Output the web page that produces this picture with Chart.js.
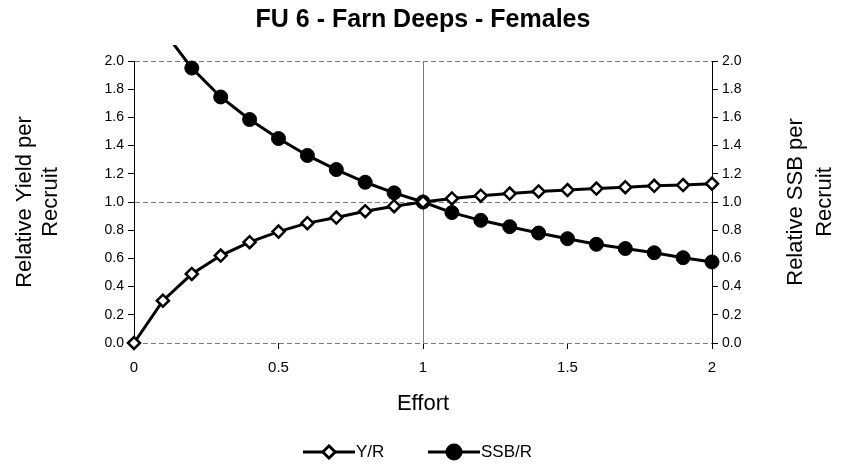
<!DOCTYPE html>
<html>
<head>
<meta charset="utf-8">
<script src="https://cdn.jsdelivr.net/npm/chart.js@4.4.1/dist/chart.umd.min.js"></script>
<style>
  html, body { margin: 0; padding: 0; background: #fff; }
  #wrap { width: 846px; height: 464px; }
</style>
</head>
<body>
<div id="wrap"><canvas id="chart"></canvas></div>
<script>
const effort = [0, 0.1, 0.2, 0.3, 0.4, 0.5, 0.6, 0.7, 0.8, 0.9, 1.0,
  1.1, 1.2, 1.3, 1.4, 1.5, 1.6, 1.7, 1.8, 1.9, 2.0];
const yieldPerRecruit = [0, 0.30, 0.49, 0.62, 0.715, 0.79, 0.85, 0.89, 0.935, 0.97, 1.0,
  1.025, 1.045, 1.06, 1.075, 1.085, 1.095, 1.105, 1.115, 1.12, 1.13];
const ssbPerRecruit = [2.6, 2.22, 1.95, 1.745, 1.585, 1.45, 1.33, 1.23, 1.14, 1.065, 1.0,
  0.925, 0.87, 0.825, 0.78, 0.74, 0.70, 0.67, 0.64, 0.605, 0.575];
const xTicks = [0, 0.5, 1, 1.5, 2];
const leftTitle = ['Relative Yield per', 'Recruit'];
const rightTitle = ['Relative SSB per', 'Recruit'];

const font = 'Arial, "Liberation Sans", sans-serif';

const toPoints = ys => effort.map((x, i) => ({ x, y: ys[i] }));

// both side titles read bottom-to-top, so draw them by hand
const sideTitles = {
  id: 'sideTitles',
  afterDraw(chart) {
    const { ctx, chartArea: a } = chart;
    const cy = (a.top + a.bottom) / 2;
    const draw = (lines, xs) => {
      lines.forEach((t, i) => {
        ctx.save();
        ctx.translate(xs[i], cy);
        ctx.rotate(-Math.PI / 2);
        ctx.fillStyle = '#000';
        ctx.font = '22px ' + font;
        ctx.textAlign = 'center';
        ctx.textBaseline = 'middle';
        ctx.fillText(t, 0, 0);
        ctx.restore();
      });
    };
    draw(leftTitle, [a.left - 109, a.left - 83]);
    draw(rightTitle, [a.right + 84, a.right + 113]);
  }
};

// line + marker legend, like the spreadsheet one
const lineLegend = {
  id: 'lineLegend',
  afterDraw(chart) {
    const ctx = chart.ctx;
    const cx = chart.width / 2;
    const y = 452;
    const items = [
      { ds: chart.data.datasets[0], x0: cx - 120, label: 'Y/R' },
      { ds: chart.data.datasets[1], x0: cx + 5, label: 'SSB/R' }
    ];
    ctx.save();
    for (const it of items) {
      ctx.strokeStyle = '#000';
      ctx.lineWidth = 3;
      ctx.beginPath();
      ctx.moveTo(it.x0, y);
      ctx.lineTo(it.x0 + 52, y);
      ctx.stroke();
      Chart.helpers.drawPoint(ctx, {
        pointStyle: it.ds.pointStyle,
        radius: it.ds.pointRadius,
        rotation: 0,
        borderWidth: it.ds.pointBorderWidth
      }, it.x0 + 26, y);
      ctx.fillStyle = it.ds.pointBackgroundColor;
      ctx.strokeStyle = '#000';
      ctx.lineWidth = it.ds.pointBorderWidth;
      ctx.fill();
      ctx.stroke();
      ctx.fillStyle = '#000';
      ctx.font = '17px ' + font;
      ctx.textBaseline = 'middle';
      ctx.fillText(it.label, it.x0 + 53, y);
    }
    ctx.restore();
  }
};

const gridAt = vals => ctx => (ctx.tick && vals.includes(Math.round(ctx.tick.value * 10) / 10)) ? '#7a7a7a' : 'transparent';

new Chart(document.getElementById('chart'), {
  type: 'line',
  data: {
    datasets: [
      {
        label: 'Y/R',
        data: toPoints(yieldPerRecruit),
        borderColor: '#000',
        borderWidth: 3,
        pointStyle: 'rectRot',
        pointRadius: 6,
        pointBorderWidth: 2.5,
        pointBackgroundColor: '#fff',
        pointBorderColor: '#000',
        yAxisID: 'y',
        clip: 8
      },
      {
        label: 'SSB/R',
        data: toPoints(ssbPerRecruit),
        borderColor: '#000',
        borderWidth: 3,
        pointStyle: 'circle',
        pointRadius: 7,
        pointBorderWidth: 1,
        pointBackgroundColor: '#000',
        pointBorderColor: '#000',
        yAxisID: 'y',
        clip: { left: 8, right: 8, bottom: 8, top: 16 }
      }
    ]
  },
  options: {
    responsive: true,
    maintainAspectRatio: false,
    animation: false,
    layout: { padding: { left: 0, right: 0, top: 0, bottom: 36 } },
    plugins: {
      legend: { display: false },
      tooltip: { enabled: false },
      title: {
        display: true,
        text: 'FU 6 - Farn Deeps - Females',
        color: '#000',
        font: { family: font, size: 25, weight: 'bold' },
        padding: { top: 5.5, bottom: 25.5 }
      }
    },
    scales: {
      x: {
        type: 'linear',
        min: 0,
        max: 2,
        afterBuildTicks: s => { s.ticks = xTicks.map(v => ({ value: v })); },
        afterFit: s => { s.height = 85; },
        ticks: {
          color: '#000',
          font: { family: font, size: 15 },
          padding: 10,
          maxRotation: 0,
          callback: v => String(v)
        },
        grid: {
          color: gridAt([1]),
          tickColor: '#000',
          tickLength: 6,
          lineWidth: 1
        },
        border: { display: false },
        title: {
          display: true,
          text: 'Effort',
          color: '#000',
          font: { family: font, size: 22 },
          padding: { top: 0, bottom: 11 }
        }
      },
      y: {
        position: 'left',
        min: 0,
        max: 2,
        afterFit: s => { s.width = 134; },
        ticks: {
          stepSize: 0.2,
          color: '#000',
          font: { family: font, size: 14 },
          padding: 4,
          callback: v => Number(v).toFixed(1)
        },
        grid: {
          color: gridAt([0, 1, 2]),
          tickColor: '#000',
          tickLength: 6
        },
        border: { display: true, color: '#000', width: 1, dash: [5, 3] }
      },
      y2: {
        position: 'right',
        min: 0,
        max: 2,
        afterFit: s => { s.width = 134; },
        ticks: {
          stepSize: 0.2,
          color: '#000',
          font: { family: font, size: 14 },
          padding: 4,
          callback: v => Number(v).toFixed(1)
        },
        grid: {
          drawOnChartArea: false,
          tickColor: '#000',
          tickLength: 6
        },
        border: { display: true, color: '#000', width: 1 }
      }
    }
  },
  plugins: [sideTitles, lineLegend]
});
</script>
</body>
</html>
